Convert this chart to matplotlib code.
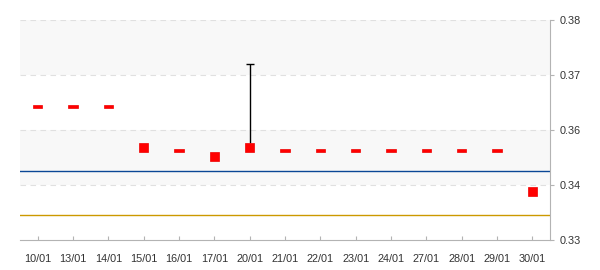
import numpy as np
import matplotlib.pyplot as plt

dates = ['10/01', '13/01', '14/01', '15/01', '16/01', '17/01', '20/01', '21/01',
         '22/01', '23/01', '24/01', '27/01', '28/01', '29/01', '30/01']
open_ = [0.360, 0.360, 0.360, 0.352, 0.350, 0.350, 0.352, 0.350,
         0.350, 0.350, 0.350, 0.350, 0.350, 0.350, 0.342]
close = [0.360, 0.360, 0.360, 0.350, 0.350, 0.348, 0.350, 0.350,
         0.350, 0.350, 0.350, 0.350, 0.350, 0.350, 0.340]
high = [0.360, 0.360, 0.360, 0.352, 0.350, 0.350, 0.370, 0.350,
        0.350, 0.350, 0.350, 0.350, 0.350, 0.350, 0.342]
line_blue = 0.3457
line_gold = 0.3356
ytick_vals = [0.33, 0.3425, 0.355, 0.3675, 0.38]
ytick_labels = ['0.33', '0.34', '0.36', '0.37', '0.38']

plt.rcParams['font.family'] = ['Liberation Sans', 'DejaVu Sans']

fig = plt.figure(figsize=(6, 2.7), dpi=100)
ax = fig.add_axes([20 / 600, 30 / 270, 530 / 600, 220 / 270])

x = np.arange(len(dates))
o = np.array(open_)
c = np.array(close)
h = np.array(high)
lo = np.minimum(o, c)
hi = np.maximum(o, c)

# alternating bands + dashed grid
ax.axhspan(ytick_vals[3], ytick_vals[4], color='#f8f8f8', zorder=0, lw=0)
ax.axhspan(ytick_vals[1], ytick_vals[2], color='#f8f8f8', zorder=0, lw=0)
for v in ytick_vals[1:]:
    ax.axhline(v, color='#e0e0e0', lw=0.8, ls=(0, (5, 4)), zorder=1)

ax.axhline(line_blue, color='#0a4796', lw=1, zorder=2)
ax.axhline(line_gold, color='#cc9900', lw=1, zorder=2)

# wicks
wick = h > hi
ax.vlines(x[wick], hi[wick], h[wick], color='black', lw=1, zorder=3)
ax.plot(x[wick], h[wick], marker='_', ms=6, mew=1, color='black', ls='none', zorder=3)

# bodies
heights = np.maximum(hi - lo, 0.0006)
ax.bar(x, heights, bottom=lo, width=0.27, color='#ff0000', edgecolor='#ee0000',
       lw=0.5, zorder=4)

ax.set_xlim(-0.5, len(dates) - 0.5)
ax.set_ylim(0.33, 0.38)
ax.set_xticks(x)
ax.set_xticklabels(dates)
ax.set_yticks(ytick_vals)
ax.set_yticklabels(ytick_labels)
ax.yaxis.tick_right()

for s in ['top', 'left']:
    ax.spines[s].set_visible(False)
for s in ['right', 'bottom']:
    ax.spines[s].set_color('#b3b3b3')

ax.tick_params(axis='x', direction='in', length=3, color='#b3b3b3',
               labelsize=7.8, labelcolor='#333333', pad=10)
ax.tick_params(axis='y', direction='out', length=3, color='#b3b3b3',
               labelsize=7.8, labelcolor='#333333', pad=4)

fig.savefig('out.png', dpi=100)
